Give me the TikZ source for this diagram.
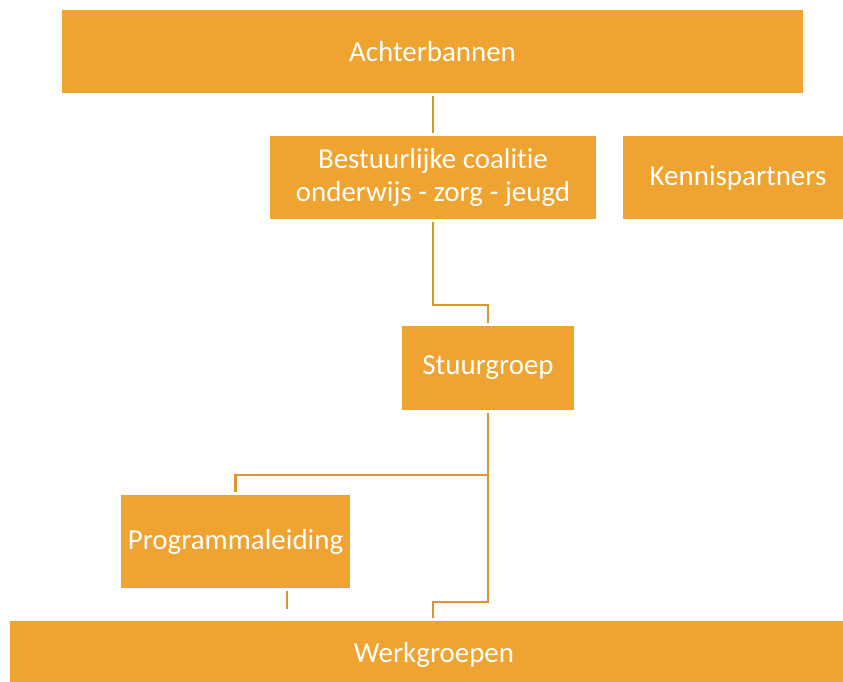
\documentclass[tikz,border=0pt]{standalone}
\usepackage{fontspec}
\setmainfont{Carlito}[Ligatures=NoCommon]

\definecolor{orgbox}{HTML}{EFA331}
\definecolor{orgline}{HTML}{DE962F}

\tikzset{
  orgunit/.style={fill=orgbox, text=white, inner sep=0pt, align=center,
    font=\fontsize{24.7pt}{27.6pt}\selectfont},
  orglink/.style={orgline, line width=2.5pt, shorten <=2.5pt, shorten >=2.5pt}
}

\begin{document}
\begin{tikzpicture}[x=0.03cm, y=-0.03cm]
    \useasboundingbox (0, 0) rectangle (843, 682);
    \node[orgunit, minimum width=22.23cm, minimum height=2.49cm] (achter) at (432.5, 51.5) {Achterbannen};
    \node[orgunit, minimum width=9.78cm, minimum height=2.49cm] (bestuur) at (433, 177.5) {Bestuurlijke coalitie\\onderwijs - zorg - jeugd};
    \node[orgunit, minimum width=6.9cm, minimum height=2.49cm] (kennis) at (738, 177.5) {Kennispartners};
    \node[orgunit, minimum width=5.16cm, minimum height=2.52cm] (stuur) at (488, 368) {Stuurgroep};
    \node[orgunit, minimum width=6.87cm, minimum height=2.79cm] (prog) at (235.5, 541.5) {Programmaleiding};
    \node[orgunit, minimum width=25.44cm, minimum height=2.01cm] (werk) at (434, 654.5) {Werkgroepen};
    \coordinate (bend1) at (488, 305);
    \coordinate (bend2) at (488, 602);
    \coordinate (split) at (488, 475);
    \coordinate (progend) at (287, 609);
    \draw[orglink] (achter.south -| bestuur.north) -- (bestuur.north);
    \draw[orglink] (bestuur.south) |- (bend1) -- (stuur.north);
    \draw[orglink] (stuur.south) -- (bend2) -| (werk.north -| bestuur.south);
    \draw[orglink, shorten <=0pt] (split) -| (prog.north);
    \draw[orglink, shorten >=0pt] (prog.south -| progend) -- (progend);
\end{tikzpicture}
\end{document}
